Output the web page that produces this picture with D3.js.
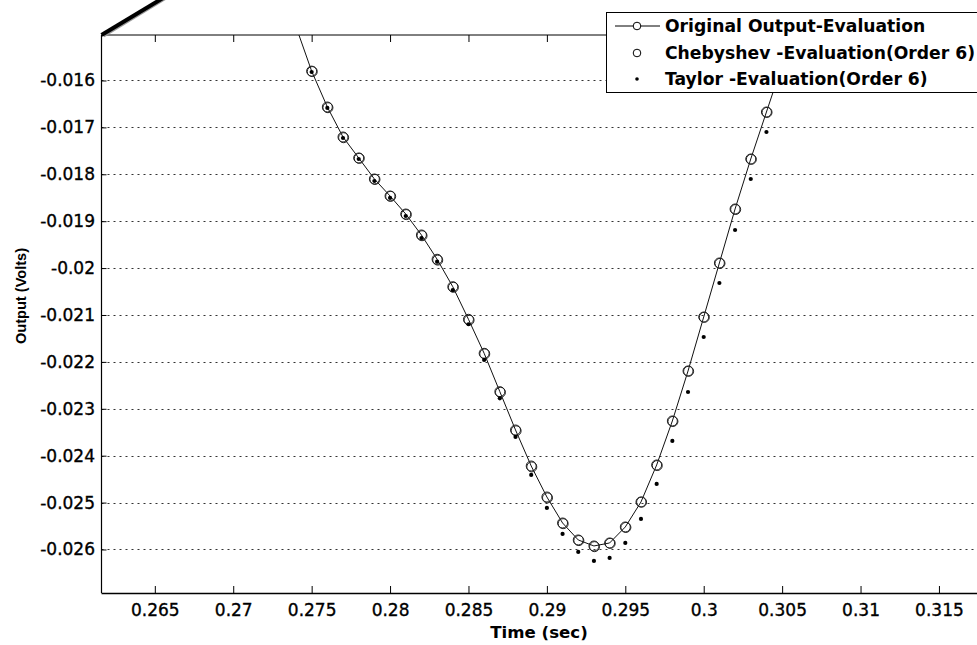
<!DOCTYPE html>
<html>
<head>
<meta charset="utf-8">
<script src="https://cdn.jsdelivr.net/npm/d3@7"></script>
<style>
  html, body { margin: 0; padding: 0; background: #fff; overflow: hidden; }
  svg { display: block; }
</style>
</head>
<body>
<svg id="chart" width="977" height="645"></svg>
<script>
// ---- data ----
const timeValues = [0.274, 0.275, 0.276, 0.277, 0.278, 0.279, 0.280, 0.281, 0.282, 0.283,
  0.284, 0.285, 0.286, 0.287, 0.288, 0.289, 0.290, 0.291, 0.292, 0.293, 0.294, 0.295,
  0.296, 0.297, 0.298, 0.299, 0.300, 0.301, 0.302, 0.303, 0.304, 0.305, 0.306];

const originalValues = [-0.01485, -0.01580, -0.016565, -0.017205, -0.017652, -0.018100,
  -0.018463, -0.018847, -0.019294, -0.019812, -0.020397, -0.021092, -0.021817, -0.022635,
  -0.023452, -0.024220, -0.024881, -0.025435, -0.025797, -0.025925, -0.025861, -0.025520,
  -0.024987, -0.024198, -0.023260, -0.022194, -0.021043, -0.019891, -0.018740, -0.017674,
  -0.016672, -0.015670, -0.01475];

const chebyshevValues = [-0.01486, -0.01581, -0.01658, -0.01722, -0.01766, -0.01811,
  -0.01847, -0.01886, -0.01931, -0.01983, -0.02041, -0.02111, -0.02183, -0.02265,
  -0.02347, -0.02424, -0.02490, -0.02545, -0.02581, -0.02594, -0.02587, -0.02553,
  -0.02499, -0.02421, -0.02327, -0.02220, -0.02105, -0.01990, -0.01875, -0.01768,
  -0.01668, -0.01568, -0.01476];

const taylorValues = [-0.01487, -0.015819, -0.016586, -0.017226, -0.017674, -0.018143,
  -0.018505, -0.018889, -0.019358, -0.019863, -0.020467, -0.021198, -0.021959, -0.022776,
  -0.023601, -0.024411, -0.025115, -0.025669, -0.026053, -0.026245, -0.026181, -0.025861,
  -0.025349, -0.024603, -0.023686, -0.022642, -0.021469, -0.020318, -0.019188, -0.018100,
  -0.017098, -0.016096, -0.01510];

const xTickValues = [0.265, 0.27, 0.275, 0.28, 0.285, 0.29, 0.295, 0.3, 0.305, 0.31, 0.315];
const xTickLabels = ["0.265", "0.27", "0.275", "0.28", "0.285", "0.29", "0.295", "0.3", "0.305", "0.31", "0.315"];
const yTickValues = [-0.016, -0.017, -0.018, -0.019, -0.02, -0.021, -0.022, -0.023, -0.024, -0.025, -0.026];
const yTickLabels = ["-0.016", "-0.017", "-0.018", "-0.019", "-0.02", "-0.021", "-0.022", "-0.023", "-0.024", "-0.025", "-0.026"];

const seriesNames = ["Original Output-Evaluation", "Chebyshev -Evaluation(Order 6)", "Taylor -Evaluation(Order 6)"];
const xTitle = "Time (sec)";
const yTitle = "Output (Volts)";

// ---- layout ----
const pLeft = 101.5, pTop = 35, pBottom = 593, pRight = 986;
const x = d3.scaleLinear().domain([0.2616, 0.318]).range([pLeft, pRight]);
const y = d3.scaleLinear().domain([-0.026928, -0.01503]).range([pBottom, pTop]);

const svg = d3.select("#chart");
const FONT = "'DejaVu Sans', sans-serif";
const ink = "#000";

svg.append("defs").append("clipPath").attr("id", "plotclip")
  .append("rect").attr("x", pLeft).attr("y", pTop).attr("width", pRight - pLeft).attr("height", pBottom - pTop);

// gridlines (horizontal only)
svg.append("g").selectAll("line").data(yTickValues).join("line")
  .attr("x1", pLeft).attr("x2", pRight)
  .attr("y1", d => Math.round(y(d)) + 0.5).attr("y2", d => Math.round(y(d)) + 0.5)
  .attr("stroke", "#333").attr("stroke-width", 1).attr("stroke-dasharray", "2,4");

// axes
const xAxis = d3.axisBottom(x).tickValues(xTickValues)
  .tickFormat((d, i) => xTickLabels[i]).tickSizeInner(-7).tickSizeOuter(0).tickPadding(11);
const gx = svg.append("g").attr("transform", `translate(0,${pBottom})`).call(xAxis);
gx.select(".domain").remove();
gx.selectAll("text").attr("font-family", FONT).attr("font-size", 17).attr("fill", ink)
  .attr("stroke", ink).attr("stroke-width", 0.35);
gx.selectAll("line").attr("stroke", ink);

const xTopAxis = d3.axisTop(x).tickValues(xTickValues).tickFormat("").tickSizeInner(-7).tickSizeOuter(0);
const gxt = svg.append("g").attr("transform", `translate(0,${pTop})`).call(xTopAxis);
gxt.select(".domain").remove();
gxt.selectAll("line").attr("stroke", ink);

const yAxis = d3.axisLeft(y).tickValues(yTickValues)
  .tickFormat((d, i) => yTickLabels[i]).tickSizeInner(-5).tickSizeOuter(0).tickPadding(6.5);
const gy = svg.append("g").attr("transform", `translate(${pLeft},0)`).call(yAxis);
gy.select(".domain").remove();
gy.selectAll("text").attr("font-family", FONT).attr("font-size", 17).attr("fill", ink)
  .attr("stroke", ink).attr("stroke-width", 0.35);
gy.selectAll("line").attr("stroke", ink);

// frame
svg.append("line").attr("x1", pLeft).attr("x2", pRight).attr("y1", pTop).attr("y2", pTop).attr("stroke", ink);
svg.append("line").attr("x1", pLeft).attr("x2", pRight).attr("y1", pBottom + 0.5).attr("y2", pBottom + 0.5).attr("stroke", ink).attr("stroke-width", 1.3);
svg.append("line").attr("x1", pLeft).attr("x2", pLeft).attr("y1", pTop).attr("y2", pBottom).attr("stroke", ink).attr("stroke-width", 1.2);

// corner artifact (thick diagonal edge)
svg.append("line").attr("x1", pLeft + 2).attr("y1", pTop + 1).attr("x2", 166).attr("y2", -2)
  .attr("stroke", "#999").attr("stroke-width", 3);
svg.append("line").attr("x1", pLeft).attr("y1", pTop).attr("x2", 163).attr("y2", -2)
  .attr("stroke", "#000").attr("stroke-width", 4);

// titles
svg.append("text").attr("x", 539).attr("y", 638).attr("text-anchor", "middle")
  .attr("font-family", FONT).attr("font-weight", "bold").attr("font-size", 16.6).attr("fill", ink).text(xTitle);
svg.append("text").attr("transform", "translate(26,296) rotate(-90)").attr("text-anchor", "middle")
  .attr("font-family", "'Liberation Sans', Arial, sans-serif").attr("font-weight", "bold").attr("font-size", 14.6)
  .attr("fill", ink).text(yTitle);

// data
const plot = svg.append("g").attr("clip-path", "url(#plotclip)");
const orig = timeValues.map((t, i) => [t, originalValues[i]]);
const cheb = timeValues.map((t, i) => [t, chebyshevValues[i]]);
const tayl = timeValues.map((t, i) => [t, taylorValues[i]]);

plot.append("path").datum(orig)
  .attr("d", d3.line().x(d => x(d[0])).y(d => y(d[1])))
  .attr("fill", "none").attr("stroke", "#111").attr("stroke-width", 1);

plot.append("g").selectAll("circle").data(cheb).join("circle")
  .attr("cx", d => x(d[0]) + 0.6).attr("cy", d => y(d[1]))
  .attr("r", 5).attr("fill", "none").attr("stroke", "#222").attr("stroke-width", 1);

plot.append("g").selectAll("circle").data(orig).join("circle")
  .attr("cx", d => x(d[0])).attr("cy", d => y(d[1]))
  .attr("r", 5).attr("fill", "none").attr("stroke", "#222").attr("stroke-width", 1);

plot.append("g").selectAll("circle").data(tayl).join("circle")
  .attr("cx", d => x(d[0])).attr("cy", d => y(d[1]))
  .attr("r", 2.1).attr("fill", "#000");

// legend
const lg = svg.append("g");
lg.append("rect").attr("x", 606.5).attr("y", 12.5).attr("width", 420).attr("height", 80)
  .attr("fill", "#fff").attr("stroke", ink).attr("stroke-width", 1);
const rowsY = [26, 53, 79];
lg.append("line").attr("x1", 615).attr("x2", 660).attr("y1", rowsY[0]).attr("y2", rowsY[0]).attr("stroke", ink);
lg.append("circle").attr("cx", 637).attr("cy", rowsY[0]).attr("r", 3.8).attr("fill", "#fff").attr("stroke", ink);
lg.append("circle").attr("cx", 637).attr("cy", rowsY[1]).attr("r", 3.8).attr("fill", "none").attr("stroke", ink);
lg.append("circle").attr("cx", 637).attr("cy", rowsY[2]).attr("r", 1.8).attr("fill", "#000");
lg.selectAll("text.lt").data(seriesNames).join("text").attr("class", "lt")
  .attr("x", 665).attr("y", (d, i) => rowsY[i]).attr("dy", "0.36em")
  .attr("font-family", FONT).attr("font-weight", "bold").attr("font-size", 17.2).attr("fill", ink)
  .text(d => d);
</script>
</body>
</html>
